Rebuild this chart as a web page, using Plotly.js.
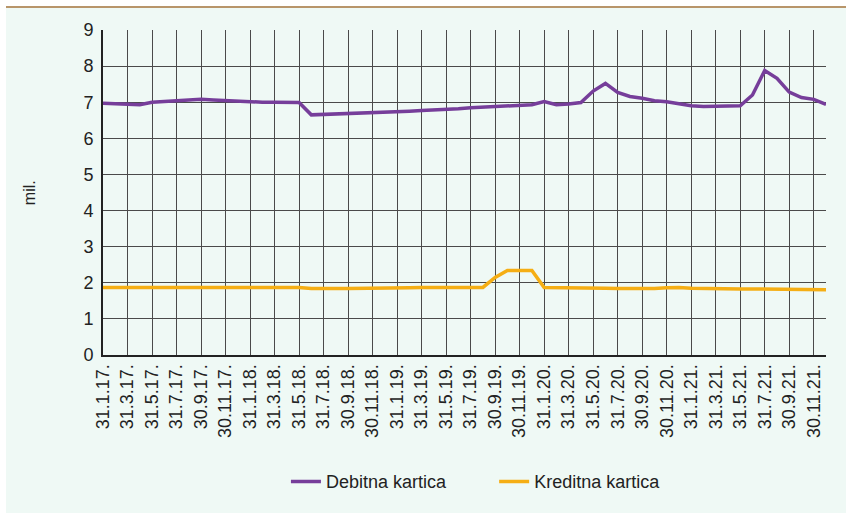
<!DOCTYPE html>
<html>
<head>
<meta charset="utf-8">
<script src="https://cdn.plot.ly/plotly-3.0.1.min.js"></script>
<style>
html,body{margin:0;padding:0;background:#ffffff;}
#bg{position:absolute;left:6px;top:6px;width:840px;height:507px;background:#eff9f5;border-top:2px solid #b8956a;box-sizing:border-box;}
#chart{position:absolute;left:0;top:0;width:846px;height:513px;}
</style>
</head>
<body>
<div id="bg"></div>
<div id="chart"></div>
<script>
const categories = [
 "31.1.17.","28.2.17.","31.3.17.","30.4.17.","31.5.17.","30.6.17.","31.7.17.","31.8.17.","30.9.17.","31.10.17.","30.11.17.","31.12.17.",
 "31.1.18.","28.2.18.","31.3.18.","30.4.18.","31.5.18.","30.6.18.","31.7.18.","31.8.18.","30.9.18.","31.10.18.","30.11.18.","31.12.18.",
 "31.1.19.","28.2.19.","31.3.19.","30.4.19.","31.5.19.","30.6.19.","31.7.19.","31.8.19.","30.9.19.","31.10.19.","30.11.19.","31.12.19.",
 "31.1.20.","29.2.20.","31.3.20.","30.4.20.","31.5.20.","30.6.20.","31.7.20.","31.8.20.","30.9.20.","31.10.20.","30.11.20.","31.12.20.",
 "31.1.21.","28.2.21.","31.3.21.","30.4.21.","31.5.21.","30.6.21.","31.7.21.","31.8.21.","30.9.21.","31.10.21.","30.11.21.","31.12.21."
];
const debitna = [
 6.97,6.95,6.94,6.93,7.00,7.02,7.03,7.04,7.08,7.06,7.04,7.02,
 7.00,7.00,7.00,6.99,6.99,6.65,6.66,6.67,6.69,6.70,6.71,6.72,
 6.74,6.75,6.77,6.78,6.80,6.82,6.85,6.87,6.89,6.90,6.92,6.93,
 7.02,6.93,6.95,6.99,7.31,7.52,7.27,7.16,7.11,7.04,7.01,6.96,
 6.90,6.88,6.88,6.88,6.90,7.20,7.88,7.66,7.28,7.13,7.08,6.94
];
const kreditna = [
 1.87,1.87,1.87,1.87,1.87,1.87,1.87,1.87,1.88,1.88,1.88,1.88,
 1.87,1.87,1.87,1.87,1.87,1.84,1.85,1.84,1.84,1.84,1.85,1.85,
 1.86,1.86,1.87,1.87,1.87,1.88,1.87,1.87,2.15,2.34,2.34,2.34,
 1.87,1.87,1.87,1.87,1.86,1.85,1.84,1.84,1.83,1.84,1.86,1.87,
 1.85,1.84,1.83,1.83,1.83,1.83,1.83,1.82,1.82,1.82,1.81,1.81
];
const seriesNames = ["Debitna kartica","Kreditna kartica"];
const tickLabels = categories.filter((c,i)=>i%2===0);
const yTicks = [0,1,2,3,4,5,6,7,8,9];

const traces = [
 {x:categories,y:debitna,name:seriesNames[0],type:'scatter',mode:'lines',line:{color:'#763e9a',width:3.5},legend:'legend'},
 {x:categories,y:kreditna,name:seriesNames[1],type:'scatter',mode:'lines',line:{color:'#f5ae14',width:3.5},legend:'legend2'}
];
const legFont = {family:'Liberation Sans Narrow, Arial Narrow, Liberation Sans, sans-serif',size:18,color:'#222'};
const layout = {
 width:846,height:513,
 margin:{l:103,r:20,t:30,b:158},
 paper_bgcolor:'rgba(0,0,0,0)',
 plot_bgcolor:'#eff9f5',
 font:{family:'Liberation Sans, Arial, sans-serif',color:'#222222'},
 showlegend:true,
 legend:{orientation:'h',x:0.253,xanchor:'left',y:-0.39,yanchor:'middle',font:legFont,bgcolor:'rgba(0,0,0,0)'},
 legend2:{orientation:'h',x:0.541,xanchor:'left',y:-0.39,yanchor:'middle',font:legFont,bgcolor:'rgba(0,0,0,0)'},
 xaxis:{type:'category',range:[0,59],tickmode:'array',tickvals:tickLabels,ticktext:tickLabels,
   tickangle:-90,tickfont:{size:18,color:'#222'},showgrid:true,gridcolor:'#4a4a4a',gridwidth:1,
   showline:true,linecolor:'#222',linewidth:2,ticks:'',zeroline:false,fixedrange:true},
 yaxis:{range:[0,9],tickmode:'array',tickvals:yTicks,tickfont:{size:18,color:'#222'},
   showgrid:true,gridcolor:'#4a4a4a',gridwidth:1,showline:true,linecolor:'#222',linewidth:2,
   ticks:'',zeroline:false,ticklabelstandoff:4,fixedrange:true},
 annotations:[{text:'mil.',xref:'paper',yref:'paper',x:-0.1,y:0.5,xanchor:'center',yanchor:'middle',
   showarrow:false,textangle:-90,font:{size:16,color:'#222'},xshift:-1}]
};
Plotly.newPlot('chart',traces,layout,{displayModeBar:false,staticPlot:true});
</script>
</body>
</html>
